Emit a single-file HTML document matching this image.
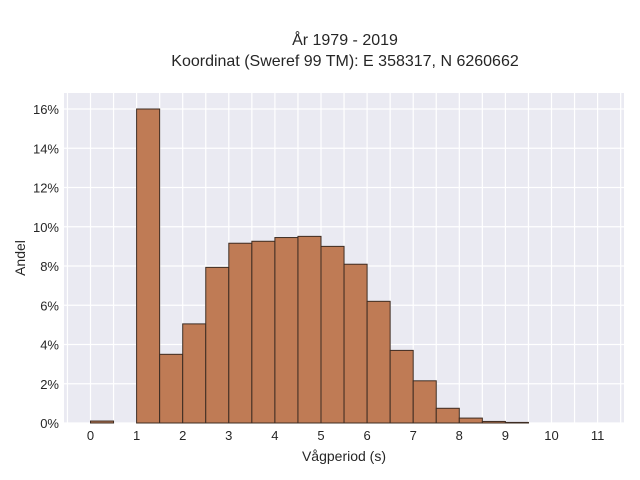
<!DOCTYPE html>
<html><head><meta charset="utf-8"><style>
body{margin:0;background:#fff;}
svg{display:block;font-family:"Liberation Sans",sans-serif;}
</style></head><body>
<svg id="chart" width="640" height="480">
<text x="345" y="45" text-anchor="middle" font-size="16" fill="#262626">År 1979 - 2019</text>
<text x="345" y="66" text-anchor="middle" font-size="16" fill="#262626">Koordinat (Sweref 99 TM): E 358317, N 6260662</text>
<rect x="64" y="93" width="560" height="330" fill="#eaeaf2"/>
<g id="grid"></g><g id="bars"></g><g id="ticks"></g>
<text x="344" y="461" text-anchor="middle" font-size="14" fill="#262626">Vågperiod (s)</text>
<text transform="translate(25,258) rotate(-90)" text-anchor="middle" font-size="14" fill="#262626">Andel</text>
</svg>
<script>
const binStarts=[0,0.5,1,1.5,2,2.5,3,3.5,4,4.5,5,5.5,6,6.5,7,7.5,8,8.5,9];
const shares=[0.1,0,16,3.5,5.05,7.93,9.16,9.26,9.45,9.51,9.0,8.09,6.2,3.7,2.15,0.75,0.25,0.08,0.03];
const xTicks=[0,1,2,3,4,5,6,7,8,9,10,11];
const yTicks=[0,2,4,6,8,10,12,14,16];
const binWidth=0.5;
const NS="http://www.w3.org/2000/svg";
const X=v=>90.5+(v)*46.1;
const Y=v=>423-v*19.625;
function mk(tag,attrs,parent){const e=document.createElementNS(NS,tag);for(const k in attrs)e.setAttribute(k,attrs[k]);parent.appendChild(e);return e;}
const grid=document.getElementById('grid'),bars=document.getElementById('bars'),ticks=document.getElementById('ticks');
for(let v=-0.5;v<=11.5;v+=0.5){const l=mk('line',{x1:X(v),x2:X(v),y1:93,y2:423,stroke:'#fff','stroke-width':1.2},grid);

}
yTicks.forEach(t=>{const l=mk('line',{x1:64,x2:624,y1:Y(t),y2:Y(t),stroke:'#fff','stroke-width':1.2},grid);


const tx=mk('text',{x:59,y:Y(t)+5,'text-anchor':'end','font-size':13,fill:'#262626'},ticks);
tx.textContent=t+'%';

});
xTicks.forEach(t=>{const tx=mk('text',{x:X(t),y:440,'text-anchor':'middle','font-size':13,fill:'#262626'},ticks);
tx.textContent=t;

});
binStarts.forEach((s,i)=>{if(shares[i]<=0)return;const r=mk('rect',{x:X(s),y:Y(shares[i]),width:X(s+binWidth)-X(s),height:Y(0)-Y(shares[i]),fill:'#bf7b55',stroke:'#3d2c22','stroke-width':1},bars);

});
</script>
</body></html>
